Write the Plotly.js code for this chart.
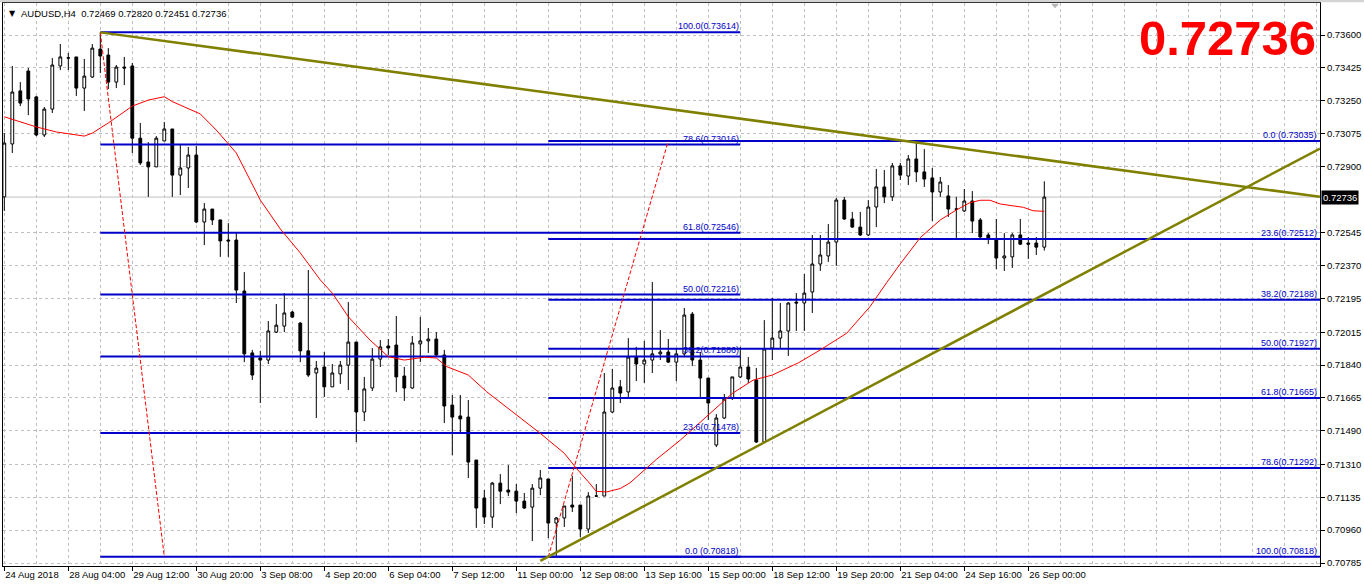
<!DOCTYPE html>
<html>
<head>
<meta charset="utf-8">
<script src="https://cdn.plot.ly/plotly-3.0.1.min.js"></script>
<style>
html,body{margin:0;padding:0;background:#ffffff;}
#chart{width:1364px;height:587px;}
</style>
</head>
<body>
<div id="chart"></div>
<script>
// ---------------- DATA ----------------
const symbol = "AUDUSD,H4";

const open = [
0.72737,0.73019,0.73302,0.73408,0.73270,0.73067,0.73205,0.73435,0.73477,0.73483,
0.73317,0.73376,0.73525,0.73493,0.73349,0.73429,0.73435,0.73050,0.72923,0.72897,
0.73035,0.73099,0.72853,0.72891,0.72960,0.72603,0.72672,0.72614,0.72507,0.72507,
0.72235,0.71905,0.71878,0.71867,0.72016,0.72048,0.72123,0.72064,0.71916,0.71798,
0.71830,0.71724,0.71793,0.71840,0.71963,0.71590,0.71718,0.71872,0.71942,0.71947,
0.71782,0.71718,0.71953,0.71969,0.71979,0.71894,0.71627,0.71569,0.71563,0.71334,
0.71131,0.71030,0.71211,0.71174,0.71168,0.71115,0.71083,0.71184,0.71233,0.70998,
0.71025,0.71094,0.71094,0.70966,0.71142,0.71142,0.71590,0.71724,0.71697,0.71883,
0.71846,0.71867,0.71900,0.71910,0.71856,0.71900,0.72112,0.71867,0.71771,0.71414,
0.71558,0.71665,0.71777,0.71830,0.71761,0.71430,0.71931,0.71984,0.72022,0.72176,
0.72171,0.72230,0.72379,0.72422,0.72496,0.72720,0.72619,0.72576,0.72534,0.72683,
0.72790,0.72737,0.72902,0.72848,0.72939,0.72870,0.72838,0.72763,0.72742,0.72672,
0.72662,0.72715,0.72614,0.72534,0.72507,0.72411,0.72417,0.72534,0.72491,0.72491,
0.72469
];
const high = [
0.73077,0.73435,0.73349,0.73424,0.73275,0.73216,0.73477,0.73552,0.73504,0.73483,
0.73472,0.73552,0.73614,0.73530,0.73440,0.73483,0.73451,0.73131,0.73029,0.73061,
0.73136,0.73099,0.73013,0.73003,0.73008,0.72704,0.72672,0.72614,0.72597,0.72549,
0.72336,0.71921,0.71916,0.72075,0.72166,0.72224,0.72129,0.72069,0.72347,0.71862,
0.71910,0.71846,0.71862,0.72176,0.71963,0.71777,0.71931,0.71974,0.71979,0.72102,
0.71830,0.71995,0.72096,0.72038,0.72016,0.71921,0.71681,0.71681,0.71654,0.71334,
0.71174,0.71217,0.71259,0.71307,0.71206,0.71158,0.71206,0.71281,0.71233,0.71030,
0.71089,0.71249,0.71094,0.71163,0.71206,0.71798,0.71820,0.71761,0.71984,0.71937,
0.71969,0.72283,0.72027,0.71979,0.71926,0.72145,0.72123,0.71910,0.71771,0.71579,
0.71686,0.71777,0.71937,0.71883,0.71825,0.72080,0.72198,0.72171,0.72176,0.72224,
0.72326,0.72534,0.72534,0.72592,0.72731,0.72737,0.72657,0.72657,0.72720,0.72886,
0.72880,0.72918,0.72918,0.72960,0.73035,0.72992,0.72891,0.72843,0.72800,0.72737,
0.72779,0.72768,0.72624,0.72544,0.72619,0.72544,0.72544,0.72619,0.72523,0.72523,
0.72820
];
const low = [
0.72662,0.72971,0.73221,0.73173,0.73061,0.73056,0.73184,0.73413,0.73413,0.73275,
0.73195,0.73371,0.73397,0.73312,0.73317,0.73333,0.72971,0.72907,0.72737,0.72897,
0.73035,0.72737,0.72747,0.72784,0.72597,0.72480,0.72587,0.72417,0.72417,0.72171,
0.71856,0.71761,0.71638,0.71846,0.72011,0.72016,0.72091,0.71856,0.71777,0.71558,
0.71670,0.71724,0.71740,0.71707,0.71430,0.71542,0.71702,0.71830,0.71894,0.71696,
0.71649,0.71713,0.71856,0.71905,0.71889,0.71531,0.71360,0.71478,0.71238,0.70972,
0.70993,0.70972,0.71099,0.71142,0.71051,0.71073,0.70902,0.71147,0.70918,0.70818,
0.70977,0.71057,0.70923,0.70945,0.71137,0.71142,0.71585,0.71638,0.71670,0.71755,
0.71745,0.71798,0.71867,0.71851,0.71755,0.71883,0.71835,0.71670,0.71547,0.71403,
0.71553,0.71654,0.71771,0.71745,0.71425,0.71425,0.71867,0.71931,0.71889,0.72022,
0.72022,0.72118,0.72342,0.72390,0.72369,0.72614,0.72571,0.72528,0.72528,0.72576,
0.72704,0.72715,0.72827,0.72800,0.72816,0.72790,0.72608,0.72737,0.72630,0.72518,
0.72656,0.72544,0.72518,0.72485,0.72352,0.72342,0.72358,0.72480,0.72406,0.72427,
0.72451
];
const close = [
0.73024,0.73296,0.73237,0.73259,0.73067,0.73205,0.73440,0.73483,0.73478,0.73317,
0.73381,0.73530,0.73488,0.73349,0.73429,0.73424,0.73050,0.72918,0.72897,0.73050,
0.73099,0.72853,0.72891,0.72960,0.72603,0.72672,0.72614,0.72502,0.72502,0.72240,
0.71900,0.71787,0.71867,0.72022,0.72053,0.72118,0.72096,0.71916,0.71787,0.71824,
0.71724,0.71798,0.71840,0.71963,0.71590,0.71713,0.71872,0.71937,0.71931,0.71777,
0.71718,0.71958,0.71969,0.71979,0.71894,0.71622,0.71563,0.71553,0.71323,0.71078,
0.71030,0.71211,0.71168,0.71163,0.71115,0.71078,0.71184,0.71238,0.70998,0.71025,
0.71089,0.71083,0.70966,0.71142,0.71142,0.71590,0.71718,0.71691,0.71883,0.71846,
0.71867,0.71900,0.71910,0.71856,0.71900,0.72107,0.71867,0.71771,0.71638,0.71558,
0.71660,0.71777,0.71830,0.71766,0.71430,0.71926,0.71984,0.72022,0.72171,0.72171,
0.72224,0.72379,0.72427,0.72496,0.72720,0.72619,0.72576,0.72534,0.72683,0.72790,
0.72737,0.72902,0.72853,0.72939,0.72870,0.72832,0.72763,0.72816,0.72672,0.72672,
0.72715,0.72608,0.72523,0.72518,0.72411,0.72422,0.72534,0.72485,0.72485,0.72469,
0.72736
];

// time axis labels, one every 8 bars
const timeLabels = ["24 Aug 2018","28 Aug 04:00","29 Aug 12:00","30 Aug 20:00","3 Sep 08:00",
  "4 Sep 20:00","6 Sep 04:00","7 Sep 12:00","11 Sep 00:00","12 Sep 08:00","13 Sep 16:00",
  "15 Sep 00:00","18 Sep 12:00","19 Sep 20:00","21 Sep 04:00","24 Sep 16:00","26 Sep 00:00"];
const priceTicks = [0.73600,0.73425,0.73250,0.73075,0.72900,0.72545,0.72370,0.72195,
  0.72015,0.71840,0.71665,0.71490,0.71310,0.71135,0.70960,0.70785];

// moving average (red line), read at bar positions
const maX = [0,4,6.5,10,11,13,16,18,20,21,24.5,26.5,29,32,34.5,37,39.5,41,43,45.7,48,50,52.5,54,55.3,58,
  60.3,63.6,67,70,71.5,73,74,75.3,77,78.2,79.5,81.5,84.5,87.8,91,93.6,96,99.3,102,105.3,108.2,110.3,
  112,114.5,117,119,120.7,122,123.2,124.5,126,127.4,128.6,130];
const maY = [0.73164,0.73110,0.73083,0.73061,0.73077,0.73131,0.73221,0.73253,0.73271,0.73245,0.73179,
  0.73093,0.72971,0.72720,0.72566,0.72438,0.72294,0.72224,0.72098,0.71974,0.71885,0.71867,0.71882,
  0.71878,0.71832,0.71787,0.71698,0.71591,0.71476,0.71370,0.71290,0.71218,0.71167,0.71164,0.71182,
  0.71212,0.71260,0.71337,0.71440,0.71564,0.71689,0.71760,0.71787,0.71853,0.71921,0.72010,0.72151,
  0.72280,0.72380,0.72520,0.72614,0.72667,0.72706,0.72719,0.72719,0.72699,0.72688,0.72681,0.72663,0.72660];

// Fibonacci retracement #1 (bar 12 high -> bar 20)
const fib1Levels = [100.0, 78.6, 61.8, 50.0, 38.2, 23.6, 0.0];
const fib1Prices = [0.73614, 0.73016, 0.72546, 0.72216, 0.71886, 0.71478, 0.70818];
const fib1Bars = [12, 92];
const fib1BaseX = [12, 20];
const fib1BaseY = [0.73614, 0.70818];

// Fibonacci retracement #2 (bar 68 low -> bar 83), extended to the right
const fib2Levels = [0.0, 23.6, 38.2, 50.0, 61.8, 78.6, 100.0];
const fib2Prices = [0.73035, 0.72512, 0.72188, 0.71927, 0.71665, 0.71292, 0.70818];
const fib2Bars = [68, 164.46];
const fib2BaseX = [68, 83];
const fib2BaseY = [0.70818, 0.73035];

// trend lines (olive)
const trendDownX = [12, 164.46];
const trendDownY = [0.73614, 0.72737];
const trendUpX = [67, 164.46];
const trendUpY = [0.70796, 0.72995];

// ---------------- CHART ----------------
const n = close.length;
const bars = close.map((_, i) => i);
const last = n - 1;
const FONT = "Liberation Sans, Arial, sans-serif";
const BLUE = "#0000c8";
const OLIVE = "#808000";
const GRID = "#c0c0c0";

function segs(levels, prices, x0, x1) {
  const x = [], y = [];
  prices.forEach(p => { x.push(x0, x1, null); y.push(p, p, null); });
  return {x, y};
}
const f1 = segs(fib1Levels, fib1Prices, fib1Bars[0], fib1Bars[1]);
const f2 = segs(fib2Levels, fib2Prices, fib2Bars[0], fib2Bars[1]);

const fmtLvl = (lv, p) => lv.toFixed(1) + (lv === 0 ? " (" : "(") + p.toFixed(5) + ")";

const traces = [
  {
    type: "candlestick", x: bars, open: open, high: high, low: low, close: close,
    increasing: {line: {color: "#000000", width: 1}, fillcolor: "#ffffff"},
    decreasing: {line: {color: "#000000", width: 1}, fillcolor: "#000000"},
    whiskerwidth: 0, showlegend: false, hoverinfo: "skip"
  },
  {type: "scatter", mode: "lines", x: f1.x, y: f1.y, line: {color: BLUE, width: 2}, hoverinfo: "skip", showlegend: false},
  {type: "scatter", mode: "lines", x: f2.x, y: f2.y, line: {color: BLUE, width: 2}, hoverinfo: "skip", showlegend: false},
  {type: "scatter", mode: "lines", x: fib1BaseX, y: fib1BaseY, line: {color: "#ff0000", width: 1, dash: "4px,2px"}, hoverinfo: "skip", showlegend: false},
  {type: "scatter", mode: "lines", x: fib2BaseX, y: fib2BaseY, line: {color: "#ff0000", width: 1, dash: "4px,2px"}, hoverinfo: "skip", showlegend: false},
  {type: "scatter", mode: "lines", x: trendDownX, y: trendDownY, line: {color: OLIVE, width: 2.5}, hoverinfo: "skip", showlegend: false},
  {type: "scatter", mode: "lines", x: trendUpX, y: trendUpY, line: {color: OLIVE, width: 2.5}, hoverinfo: "skip", showlegend: false},
  {type: "scatter", mode: "lines", x: maX, y: maY, line: {color: "#ff0000", width: 1}, hoverinfo: "skip", showlegend: false}
];

const annotations = [];
fib1Levels.forEach((lv, k) => annotations.push({
  xref: "x", yref: "y", x: fib1Bars[1], y: fib1Prices[k], xanchor: "right", yanchor: "bottom",
  text: fmtLvl(lv, fib1Prices[k]), showarrow: false, font: {family: FONT, size: 9, color: BLUE},
  borderpad: 0, yshift: 0
}));
fib2Levels.forEach((lv, k) => annotations.push({
  xref: "paper", yref: "y", x: 1, y: fib2Prices[k], xanchor: "right", yanchor: "bottom",
  text: fmtLvl(lv, fib2Prices[k]), showarrow: false, font: {family: FONT, size: 9, color: BLUE},
  borderpad: 0, xshift: -2, yshift: 0
}));
// header
annotations.push({
  xref: "paper", yref: "paper", x: 0.003, y: 0.982, xanchor: "left", yanchor: "middle",
  text: "▼", showarrow: false, font: {family: "DejaVu Sans, sans-serif", size: 8, color: "#000"}
});
annotations.push({
  xref: "paper", yref: "paper", x: 0.0125, y: 0.982, xanchor: "left", yanchor: "middle",
  text: symbol + "  " + open[last].toFixed(5) + " " + high[last].toFixed(5) + " " + low[last].toFixed(5) + " " + close[last].toFixed(5),
  showarrow: false, font: {family: FONT, size: 9.5, color: "#000"}
});
// big red price
annotations.push({
  xref: "paper", yref: "paper", x: 0.9985, y: 0.938, xanchor: "right", yanchor: "middle",
  text: "<b>" + close[last].toFixed(5) + "</b>", showarrow: false,
  font: {family: FONT, size: 49, color: "#ff0000"}
});
// current price box on axis
annotations.push({
  xref: "paper", yref: "y", x: 1, y: close[last], xanchor: "left", yanchor: "middle",
  text: close[last].toFixed(5), showarrow: false, bgcolor: "#000000", borderpad: 1, xshift: 1,
  font: {family: FONT, size: 9.5, color: "#ffffff"}
});

const shapes = [
  {type: "line", xref: "paper", yref: "y", x0: 0, x1: 1, y0: close[last], y1: close[last],
   line: {color: GRID, width: 1}, layer: "below"},
  {type: "rect", xref: "paper", yref: "paper", x0: -0.01, x1: 1.04, y0: 1.0015, y1: 1.01,
   fillcolor: "#d4d4d4", line: {width: 0}},
  {type: "path", xref: "paper", yref: "paper",
   path: "M 0.7958 0.9985 L 0.8018 0.9985 L 0.7988 0.9905 Z",
   fillcolor: "#b4b4b4", line: {width: 0}}
];

const layout = {
  width: 1364, height: 587,
  margin: {l: 3, r: 44, t: 3, b: 21, pad: 0},
  paper_bgcolor: "#ffffff", plot_bgcolor: "#ffffff",
  showlegend: false, hovermode: false, dragmode: false,
  boxgap: 0.5,
  font: {family: FONT, size: 9.5, color: "#000"},
  xaxis: {
    type: "linear", range: [-0.1625, 164.4625], fixedrange: true, automargin: false,
    rangeslider: {visible: false},
    tickmode: "array", tickvals: timeLabels.map((_, k) => 8 * k), ticktext: timeLabels,
    tickangle: 0,
    ticks: "outside", ticklen: 4, tickcolor: "#000", tickwidth: 1,
    ticklabelposition: "outside right",
    tickfont: {family: FONT, size: 9.5, color: "#000"},
    showgrid: true, gridcolor: GRID, griddash: "3px,3px", gridwidth: 1,
    minor: {tickmode: "linear", tick0: 0, dtick: 4, showgrid: true, gridcolor: GRID, griddash: "3px,3px", gridwidth: 1, ticks: ""},
    showline: true, linecolor: "#000", linewidth: 1, mirror: true, zeroline: false
  },
  yaxis: {
    side: "right", range: [0.707690, 0.737706], fixedrange: true, automargin: false,
    tickmode: "array", tickvals: priceTicks, ticktext: priceTicks.map(v => v.toFixed(5)),
    ticks: "outside", ticklen: 4, tickcolor: "#000", tickwidth: 1,
    tickfont: {family: FONT, size: 9.5, color: "#000"},
    showgrid: true, gridcolor: GRID, griddash: "3px,3px", gridwidth: 1,
    showline: true, linecolor: "#000", linewidth: 1, mirror: true, zeroline: false
  },
  annotations: annotations,
  shapes: shapes
};

Plotly.newPlot("chart", traces, layout, {staticPlot: true, displayModeBar: false});
</script>
</body>
</html>
